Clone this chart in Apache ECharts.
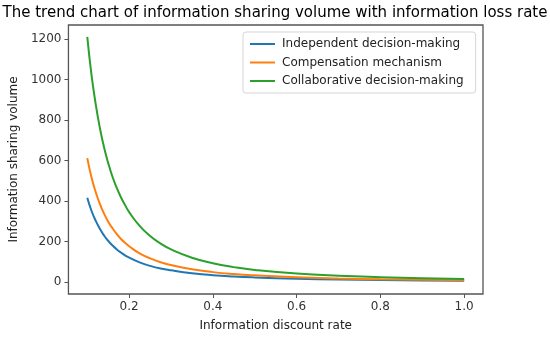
<!DOCTYPE html>
<html>
<head>
<meta charset="utf-8">
<script src="https://cdn.jsdelivr.net/npm/echarts@6/dist/echarts.min.js"></script>
<style>html,body{margin:0;padding:0;background:#fff}#c{width:550px;height:337px}</style>
</head>
<body>
<div id="c"></div>
<script>
const xValues = [0.1, 0.11, 0.12, 0.13, 0.14, 0.15, 0.16, 0.17, 0.18, 0.19, 0.2, 0.225, 0.25, 0.275, 0.3, 0.35, 0.4, 0.45, 0.5, 0.6, 0.7, 0.8, 0.9, 1.0];
const independent = [416, 352, 303, 263, 230, 203, 181, 162, 146, 132, 121, 97, 80, 67, 58, 44, 34, 27.5, 23, 16.5, 12.5, 10, 8, 6.5];
const compensation = [612, 517, 445, 386, 338, 298, 266, 238, 214, 194, 177, 141, 117, 98, 84, 63, 49, 39.5, 33, 23.5, 17.5, 13.5, 11, 9];
const collaborative = [1210, 1024, 880, 762, 665, 587, 521, 467, 420, 381, 345, 277, 227, 190, 161, 120, 92.5, 73.7, 60, 42, 31, 24, 19, 15.5];
const seriesNames = ['Independent decision-making', 'Compensation mechanism', 'Collaborative decision-making'];
const xTicks = [0.2, 0.4, 0.6, 0.8, 1.0];
const yTicks = [0, 200, 400, 600, 800, 1000, 1200];
const colors = ['#1f77b4', '#ff7f0e', '#2ca02c'];

const font = 'DejaVu Sans';
const pair = arr => xValues.map((x, i) => [x, arr[i]]);
const mk = (name, arr, c) => ({
  name, type: 'line', data: pair(arr), smooth: 0.5, symbol: 'none',
  lineStyle: { width: 2, color: c }, itemStyle: { color: c }
});

const chart = echarts.init(document.getElementById('c'));
chart.setOption({
  animation: false,
  title: {
    text: 'The trend chart of information sharing volume with information loss rate',
    left: 'center', top: 1,
    textStyle: { fontFamily: font, fontSize: 15, fontWeight: 'normal', color: '#000' }
  },
  grid: { left: 68, right: 67, top: 25, bottom: 42, show: true, borderColor: '#555', borderWidth: 1.3, backgroundColor: '#fff' },
  legend: {
    orient: 'vertical', left: 243, top: 32, data: seriesNames,
    icon: 'rect', itemWidth: 25, itemHeight: 2, itemGap: 6.5,
    padding: [6, 12, 6, 7],
    borderColor: '#d5d5d5', borderWidth: 1, borderRadius: 3, backgroundColor: '#fff',
    textStyle: { fontFamily: font, fontSize: 12, color: '#222', padding: [0, 0, 0, 2] }
  },
  xAxis: {
    type: 'value', min: 0.055, max: 1.045,
    name: 'Information discount rate', nameLocation: 'middle', nameGap: 26,
    nameTextStyle: { fontFamily: font, fontSize: 12, color: '#222' },
    axisLine: { show: false, onZero: false },
    axisTick: { show: true, customValues: xTicks, length: 4, inside: false, lineStyle: { color: '#555', width: 1 } },
    axisLabel: { customValues: xTicks, fontFamily: font, fontSize: 12, color: '#333', margin: 7, formatter: v => v.toFixed(1) },
    splitLine: { show: false }
  },
  yAxis: {
    type: 'value', min: -59, max: 1269,
    name: 'Information sharing volume', nameLocation: 'middle', nameGap: 48,
    nameTextStyle: { fontFamily: font, fontSize: 12, color: '#222' },
    axisLine: { show: false, onZero: false },
    axisTick: { show: true, customValues: yTicks, length: 4, inside: false, lineStyle: { color: '#555', width: 1 } },
    axisLabel: { customValues: yTicks, fontFamily: font, fontSize: 12, color: '#333', margin: 7, formatter: v => String(v) },
    splitLine: { show: false }
  },
  series: [
    mk(seriesNames[0], independent, colors[0]),
    mk(seriesNames[1], compensation, colors[1]),
    mk(seriesNames[2], collaborative, colors[2])
  ]
});
</script>
</body>
</html>
